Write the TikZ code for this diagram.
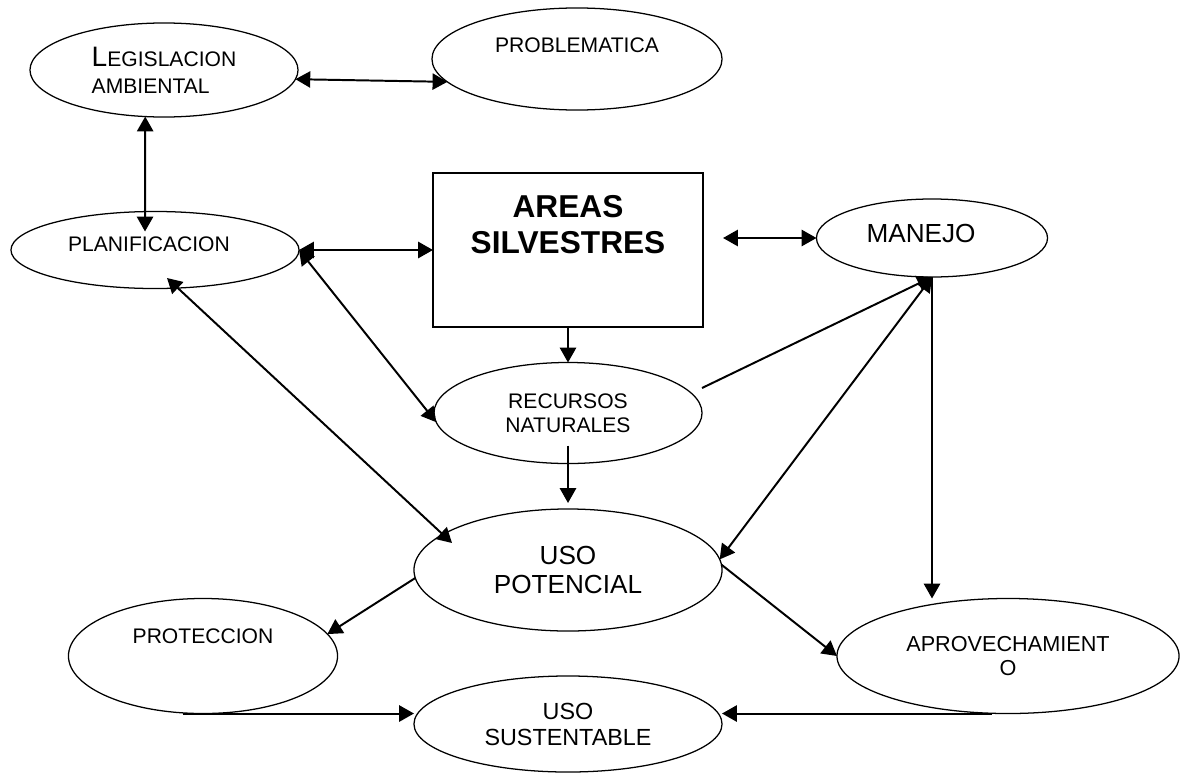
\documentclass[tikz,border=0pt]{standalone}
\usepackage{fontspec}
\setmainfont{Liberation Sans}
\usepackage{tikz}
\usetikzlibrary{positioning, shapes.geometric, arrows.meta, calc}

\begin{document}
\begin{tikzpicture}[
        x=0.025cm, y=-0.025cm,
        oval/.style={ellipse, draw, line width=0.9pt, inner sep=0pt, outer sep=0pt, align=center, font=\fontsize{15}{17}\selectfont},
        box/.style={rectangle, draw, line width=0.9pt, inner sep=0pt, outer sep=0pt},
        boxtext/.style={align=center, inner sep=0pt, font=\bfseries\fontsize{22.5}{25.6}\selectfont},
        bigtext/.style={font=\fontsize{18.6}{21}\selectfont},
        lift/.style={text depth=#1},
        arrow/.style={-{Triangle[length=10.5pt, width=11.5pt]}, line width=1.4pt},
        biarrow/.style={{Triangle[length=10.5pt, width=11.5pt]}-{Triangle[length=10.5pt, width=11.5pt]}, line width=1.4pt}
    ]
    \useasboundingbox (0,0) rectangle (1181,776);

    \node[box, minimum width=6.75cm, minimum height=3.85cm,
          label={[boxtext, name=areas-text, anchor=north, yshift=-0.55cm]north:AREAS\\SILVESTRES}] (areas) at (568,250) {};

    \node[oval, align=left, font=\fontsize{15}{19}\selectfont, minimum width=6.7cm, minimum height=2.35cm] (legis) at (164,70) {{\fontsize{20}{19}\selectfont L}EGISLACION\\AMBIENTAL};
    \node[oval, minimum width=7.25cm, minimum height=2.55cm, lift=0.7cm] (problematica) at (577,59) {PROBLEMATICA};
    \node[oval, minimum width=7.2cm, minimum height=1.925cm, lift=0.3cm] (planificacion) at (155,250) {PLANIFICACION\hspace*{0.3cm}};
    \node[oval, bigtext, minimum width=5.775cm, minimum height=1.95cm, lift=0.25cm] (manejo) at (932,238) {MANEJO\hspace*{0.55cm}};
    \node[oval, minimum width=6.7cm, minimum height=2.525cm] (recursos) at (568,413) {RECURSOS\\NATURALES};
    \node[oval, bigtext, minimum width=7.7cm, minimum height=3.05cm] (usopotencial) at (568,570) {USO\\POTENCIAL};
    \node[oval, minimum width=6.725cm, minimum height=2.875cm, lift=1cm] (proteccion) at (203,656) {PROTECCION};
    \node[oval, font=\fontsize{15.4}{17}\selectfont, minimum width=8.55cm, minimum height=2.875cm] (aprovechamiento) at (1008,656) {APROVECHAMIENT\\O};
    \node[oval, font=\fontsize{16.6}{18.5}\selectfont, minimum width=7.7cm, minimum height=2.4cm] (usosustentable) at (568,724) {USO\\SUSTENTABLE};

    \draw[biarrow] (legis.356) -- (problematica.190);
    \draw[biarrow] (legis.248) -- ($(planificacion.north)+(-10,20)$);
    \draw[biarrow] (planificacion.east) -- (areas.west);
    \draw[biarrow] ($(areas.east)+(20,-12)$) -- (manejo.west);
    \draw[biarrow] (planificacion.east) -- (recursos.184);
    \draw[biarrow] ($(planificacion.center)+(12,28)$) -- ($(usopotencial.center)+(-116,-27)$);
    \draw[arrow] (areas.south) -- (recursos.north);
    \draw[arrow] ($(recursos.south)+(0,-18)$) -- ($(usopotencial.north)+(0,-6)$);
    \draw[arrow] ($(recursos.east)+(0,-25)$) -- (manejo.south);
    \draw[biarrow] (usopotencial.4) -- (manejo.south);
    \draw[arrow] (manejo.south) -- (manejo.south |- aprovechamiento.north);
    \draw[arrow] (usopotencial.2) -- (aprovechamiento.west);
    \draw[arrow] (usopotencial.183) -- (proteccion.10);
    \draw[arrow] ($(proteccion.south)+(-20,0)$) -- (proteccion.south -| usosustentable.west);
    \draw[arrow] ($(aprovechamiento.south)+(-16,0)$) -- (aprovechamiento.south -| usosustentable.east);

\end{tikzpicture}
\end{document}
